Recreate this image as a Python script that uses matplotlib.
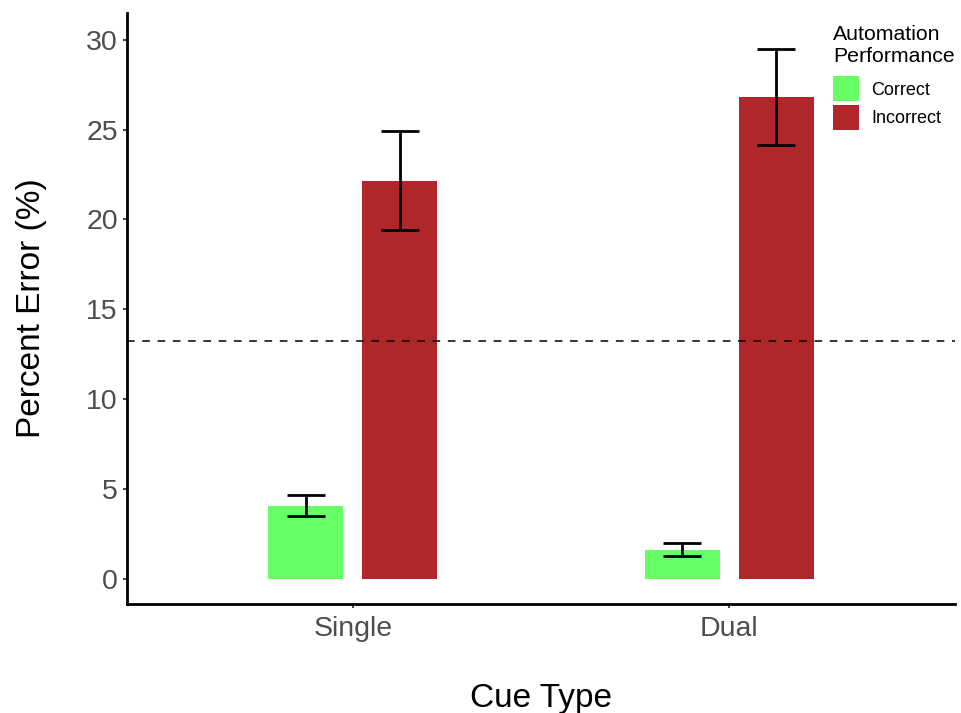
import matplotlib
matplotlib.use("Agg")
import matplotlib.pyplot as plt
import numpy as np

plt.rcParams["font.family"] = ["Liberation Sans", "DejaVu Sans"]

cue_types = ["Single", "Dual"]
groups = ["Correct", "Incorrect"]
means = {"Correct": [4.07, 1.62], "Incorrect": [22.15, 26.8]}
err_low = {"Correct": [3.5, 1.28], "Incorrect": [19.42, 24.15]}
err_high = {"Correct": [4.67, 2.0], "Incorrect": [24.9, 29.47]}
chance_level = 13.22

COLORS = {"Correct": "#66FF66", "Incorrect": "#B0272B"}
OFFSETS = {"Correct": -0.125, "Incorrect": 0.125}

fig = plt.figure(figsize=(9.61, 7.13), dpi=100)
ax = fig.add_axes([0.132, 0.153, 0.862, 0.829])

x = np.arange(1, len(cue_types) + 1)
handles = []
for g in groups:
    xs = x + OFFSETS[g]
    m = np.array(means[g])
    b = ax.bar(xs, m, width=0.2, color=COLORS[g], label=g, zorder=2)
    handles.append(b)
    lo = m - np.array(err_low[g])
    hi = np.array(err_high[g]) - m
    ax.errorbar(xs, m, yerr=[lo, hi], fmt="none", ecolor="black",
                elinewidth=2, capsize=13.5, capthick=2, zorder=3)

ax.axhline(chance_level, color="black", linestyle=(0, (5, 5)), linewidth=1.1, zorder=4)

ax.set_xlim(0.4, 2.6)
ax.set_ylim(-1.4, 31.5)
ax.set_xticks(x)
ax.set_xticklabels(cue_types)
ax.set_yticks([0, 5, 10, 15, 20, 25, 30])
ax.tick_params(axis="both", labelsize=20.5, colors="#4D4D4D", length=3, width=1.5)
ax.tick_params(axis="x", pad=6)
ax.spines[["top", "right"]].set_visible(False)
ax.spines[["left", "bottom"]].set_linewidth(2)
ax.set_xlabel("Cue Type", fontsize=24, labelpad=29)
ax.set_ylabel("Percent Error (%)", fontsize=24, labelpad=28)

leg = ax.legend(handles=handles, labels=groups, title="Automation\nPerformance",
                loc="upper left", bbox_to_anchor=(0.8375, 1.0), frameon=False,
                fontsize=13, title_fontsize=15.3, handlelength=1.45,
                handleheight=1.75, handletextpad=0.65, labelspacing=0.22,
                borderaxespad=0.3)
leg._legend_box.align = "left"
leg._legend_box.sep = 7

fig.savefig("out.png", dpi=100)
plt.close(fig)
